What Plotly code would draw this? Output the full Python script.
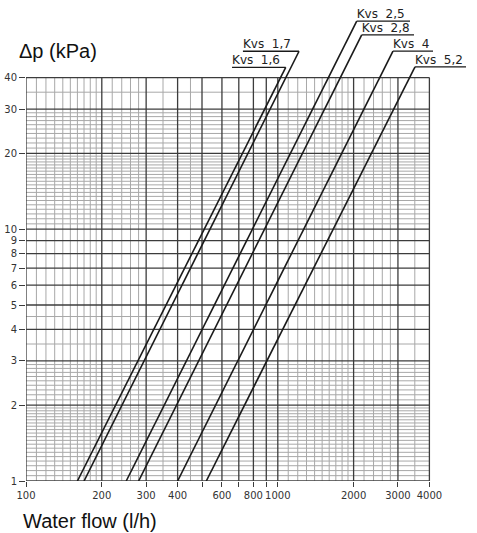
import numpy as np
import plotly.graph_objects as go

# ---------------- data ----------------
kvs_names = ["Kvs  1,6", "Kvs  1,7", "Kvs  2,5", "Kvs  2,8", "Kvs  4", "Kvs  5,2"]
flow_at_1kpa = [160, 170, 250, 280, 400, 520]          # l/h at Δp = 1 kPa
flow_top = [1075, 1214, 2058, 2154, 2867, 3507]        # l/h at top of leader
dp_top = [43.9, 50.9, 67.1, 59.1, 51.0, 44.1]          # kPa at top of leader
leader_from = [658, 727, 2058, 2154, 2867, 3507]       # underline start (l/h)
leader_to = [1075, 1214, 3350, 3475, 4134, 5590]       # underline end (l/h)
label_at = [658, 727, 2058, 2154, 2867, 3507]          # label left (l/h)

x_major = [100, 200, 300, 400, 500, 600, 700, 800, 900, 1000, 2000, 3000, 4000]
x_ticktext = ["100", "200", "300", "400", "", "600", "", "800", "", "1000", "2000", "3000", "4000"]
x_minor = [110, 120, 130, 140, 150, 160, 170, 180, 190, 220, 240, 260, 280, 350, 450,
           1100, 1200, 1300, 1400, 1500, 1600, 1700, 1800, 1900,
           2200, 2400, 2600, 2800, 3500]
y_major = [1, 2, 3, 4, 5, 6, 7, 8, 9, 10, 20, 30, 40]
y_minor = [1.05, 1.1, 1.15, 1.2, 1.25, 1.3, 1.35, 1.4, 1.45, 1.5, 1.55, 1.6, 1.65, 1.7,
           1.75, 1.8, 1.85, 1.9, 1.95,
           2.1, 2.2, 2.3, 2.4, 2.5, 2.6, 2.7, 2.8, 2.9, 3.5, 4.5,
           10.5, 11, 11.5, 12, 12.5, 13, 13.5, 14, 14.5, 15, 15.5, 16, 16.5, 17, 17.5,
           18, 18.5, 19, 19.5, 21, 22, 23, 24, 25, 26, 27, 28, 29, 35]
x_min, x_max = 100, 4000
y_min, y_max = 1, 40

# ---------------- figure ----------------
W, H = 477, 533
ml, mr, mt, mb = 26, 5, 12, 52
pw, ph = W - ml - mr, H - mt - mb
ppd = 251.8  # pixels per decade
xr = [np.log10(x_min), np.log10(x_min) + pw / ppd]
yr = [np.log10(y_min), np.log10(y_min) + ph / ppd]

fig = go.Figure()


def vlines(vals):
    xs, ys = [], []
    for v in vals:
        xs += [v, v, None]
        ys += [y_min, y_max, None]
    return xs, ys


def hlines(vals):
    xs, ys = [], []
    for v in vals:
        xs += [x_min, x_max, None]
        ys += [v, v, None]
    return xs, ys


minor_col = "#a8a8a8"
major_col = "#3c3c3c"
for (xs, ys), col, w in [
    (vlines(x_minor), minor_col, 1),
    (hlines(y_minor), minor_col, 1),
    (vlines(x_major), major_col, 1.3),
    (hlines(y_major), major_col, 1.3),
]:
    fig.add_trace(go.Scatter(x=xs, y=ys, mode="lines", line=dict(color=col, width=w),
                             hoverinfo="skip", showlegend=False))

# Kvs lines with leaders
for i, name in enumerate(kvs_names):
    fig.add_trace(go.Scatter(x=[flow_at_1kpa[i], flow_top[i]], y=[1, dp_top[i]],
                             mode="lines", line=dict(color="#1a1a1a", width=1.6),
                             showlegend=False, hoverinfo="skip"))
    fig.add_trace(go.Scatter(x=[leader_from[i], leader_to[i]], y=[dp_top[i], dp_top[i]],
                             mode="lines", line=dict(color="#1a1a1a", width=1.3),
                             showlegend=False, hoverinfo="skip"))
    fig.add_trace(go.Scatter(x=[label_at[i]], y=[dp_top[i]], mode="text", text=[name],
                             textposition="top right",
                             textfont=dict(family="DejaVu Sans", size=12, color="#222"),
                             showlegend=False, hoverinfo="skip", cliponaxis=False))


def px_x(px):
    return (px - ml) / pw


def px_y(py):
    return (H - mb - py) / ph


fig.update_layout(
    width=W, height=H,
    margin=dict(l=ml, r=mr, t=mt, b=mb, pad=0, autoexpand=False),
    plot_bgcolor="white", paper_bgcolor="white",
    xaxis=dict(type="log", range=xr, showgrid=False, zeroline=False, showline=False,
               automargin=False,
               tickmode="array", tickvals=x_major, ticktext=x_ticktext,
               ticks="outside", ticklen=5, tickwidth=1.3, tickcolor=major_col,
               tickfont=dict(family="DejaVu Sans", size=10, color="#333")),
    yaxis=dict(type="log", range=yr, showgrid=False, zeroline=False, showline=False,
               automargin=False,
               tickmode="array", tickvals=y_major, ticktext=[str(v) for v in y_major],
               ticks="outside", ticklen=6, tickwidth=1.3, tickcolor=major_col,
               tickfont=dict(family="DejaVu Sans", size=10, color="#333")),
    annotations=[
        dict(text="Δp (kPa)", xref="paper", yref="paper", x=px_x(17),
             y=px_y(51), xanchor="left", yanchor="middle", showarrow=False,
             font=dict(family="Liberation Sans", size=20, color="#111")),
        dict(text="Water flow (l/h)", xref="paper", yref="paper", x=px_x(21),
             y=px_y(521), xanchor="left", yanchor="middle", showarrow=False,
             font=dict(family="Liberation Sans", size=20, color="#111")),
    ],
)

fig.write_html(
    "out.html",
    config={"displayModeBar": False},
    post_script="document.body.style.margin='0';document.body.style.overflow='hidden';",
)
